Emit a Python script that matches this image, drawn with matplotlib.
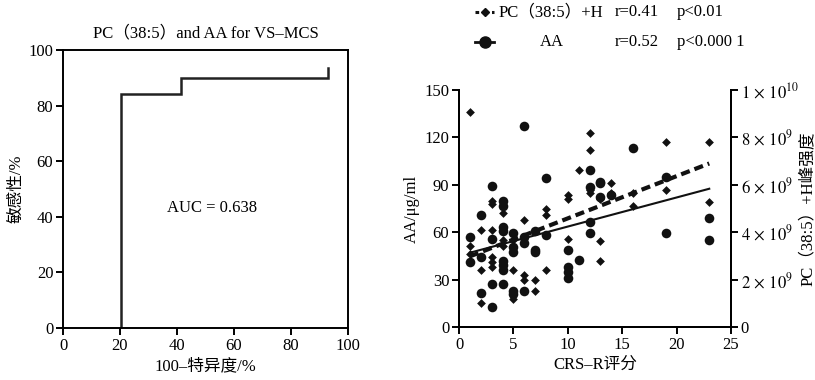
import matplotlib
matplotlib.use("Agg")
import matplotlib.pyplot as plt
from matplotlib.lines import Line2D
import numpy as np

plt.rcParams['font.family'] = ['Liberation Serif', 'Noto Sans CJK SC']
plt.rcParams['mathtext.fontset'] = 'stix'
plt.rcParams['font.size'] = 12

# ---- ROC data ----
roc_x = [20.5, 20.5, 41.5, 41.5, 93, 93]
roc_y = [0, 84, 84, 90, 90, 93.5]
auc_text = "AUC = 0.638"

# ---- scatter data ----
aa_x = [1, 1, 2, 2, 2, 3, 3, 3, 3, 4, 4, 4, 4, 4, 4, 4, 4,
        5, 5, 5, 5, 5, 6, 6, 6, 6, 7, 7, 7, 8, 8,
        10, 10, 10, 10, 11, 12, 12, 12, 12, 13, 13, 13, 14, 16, 19, 19, 23, 23]
aa_y = [57, 41, 71, 44, 21.5, 89, 56, 27, 12.5, 80, 76.5, 63.5, 61, 42, 39, 36, 27.5,
        59.5, 50.5, 47.5, 23, 21, 127, 57, 53, 23, 61, 48.5, 47.5, 94, 58,
        48.5, 38, 35, 31, 42.3, 99.3, 88.7, 66.6, 59.6, 92, 91, 82.5, 83.5, 113, 59.2, 95, 69, 55]

pc_x = [1, 1, 1, 2, 2, 2, 3, 3, 3, 3, 3, 3, 4, 4, 4, 4,
        5, 5, 5, 6, 6, 6, 7, 7, 8, 8, 8, 10, 10, 10, 11,
        12, 12, 12, 12, 12, 13, 13, 13, 14, 14, 16, 16, 19, 19, 19, 23, 23]
pc_y_left = [136, 51, 46.5, 61.3, 36, 15.2, 80, 78, 61.7, 44, 41, 38, 72, 76, 55, 51,
             55, 36, 18, 68, 32.7, 29.6, 29.6, 22.8, 75, 71, 36, 83.5, 81.3, 55.4, 99.3,
             122.5, 112, 86.6, 84.5, 66.6, 81.3, 54.5, 41.8, 91.3, 84.5, 84.5, 76.5, 116.8, 86.6, 95, 116.8, 79.2]
pc_y = [v / 150.0 * 1e10 for v in pc_y_left]

fit_x = [1, 23]
fit_aa = [47, 87.5]
fit_pc = [44.7 / 150.0 * 1e10, 103.5 / 150.0 * 1e10]

right_ticks = [0, 2e9, 4e9, 6e9, 8e9, 1e10]
right_ticklabels = ['0', r'$2\,\times\,10^{9}$', r'$4\,\times\,10^{9}$', r'$6\,\times\,10^{9}$',
                    r'$8\,\times\,10^{9}$', r'$1\,\times\,10^{10}$']

W, H = 815, 380
fig = plt.figure(figsize=(W / 100, H / 100), dpi=100)

lw = 1.4
fs = 12
# ---- left ROC ----
ax1 = fig.add_axes([63 / W, 1 - 328 / H, (348 - 63) / W, (328 - 50) / H])
ax1.plot(roc_x, roc_y, color='#222222', lw=1.8, solid_joinstyle='miter')
ax1.set_xlim(0, 100)
ax1.set_ylim(0, 100)
ax1.set_xticks(range(0, 101, 20))
ax1.set_yticks(range(0, 101, 20))
for s in ax1.spines.values():
    s.set_linewidth(lw)
ax1.tick_params(direction='out', length=5, width=lw, labelsize=fs, pad=2)
ax1.set_title("PC（38:5）and AA for VS–MCS", fontsize=12, pad=9)
ax1.set_xlabel("100–特异度/%", fontsize=fs, labelpad=3)
ax1.set_ylabel("敏感性/%", fontsize=fs, labelpad=3)
ax1.text(36.5, 43, auc_text, fontsize=fs, va='center', ha='left')

# ---- right scatter ----
ax2 = fig.add_axes([459 / W, 1 - 327 / H, (731 - 459) / W, (327 - 90) / H])
ax3 = ax2.twinx()
ax2.scatter(aa_x, aa_y, s=48, marker='o', color='#111111', zorder=3, linewidths=0)
ax3.scatter(pc_x, pc_y, s=20, marker='D', color='#111111', zorder=3, linewidths=0)
ax2.plot(fit_x, fit_aa, color='#111111', lw=1.5, zorder=4)
ax3.plot(fit_x, fit_pc, color='#111111', lw=3, ls=(0, (2.2, 1.2)), zorder=4)
ax2.set_xlim(0, 25)
ax2.set_ylim(0, 150)
ax3.set_ylim(0, 1e10)
ax2.set_xticks(range(0, 26, 5))
ax2.set_yticks(range(0, 151, 30))
ax3.set_yticks(right_ticks)
ax3.set_yticklabels(right_ticklabels)
for a in (ax2, ax3):
    a.spines['top'].set_visible(False)
    for s in a.spines.values():
        s.set_linewidth(lw)
    a.tick_params(direction='out', length=5, width=lw, labelsize=fs, pad=2)
ax2.set_xlabel("CRS–R评分", fontsize=fs, labelpad=3)
ax2.set_ylabel("AA/μg/ml", fontsize=fs, labelpad=3)
ax3.set_ylabel("PC（38:5）+H峰强度", fontsize=fs, labelpad=1)

# ---- legend ----
y1 = 1 - 12 / H
y2 = 1 - 42 / H
fig.add_artist(Line2D([475 / W, 494 / W], [y1, y1], color='#111111', lw=2.2,
                      ls=(0, (1.2, 1.5)), transform=fig.transFigure))
fig.add_artist(Line2D([485 / W], [y1], color='#111111', marker='D', ms=4,
                      transform=fig.transFigure))
fig.add_artist(Line2D([475 / W, 494 / W], [y2, y2], color='#111111', lw=2,
                      transform=fig.transFigure))
fig.add_artist(Line2D([485 / W], [y2], color='#111111', marker='o', ms=8,
                      transform=fig.transFigure))
fig.text(499 / W, y1, "PC（38:5）+H", fontsize=fs, va='center')
fig.text(540 / W, y2, "AA", fontsize=fs, va='center')
fig.text(615 / W, y1, "r=0.41", fontsize=fs, va='center')
fig.text(615 / W, y2, "r=0.52", fontsize=fs, va='center')
fig.text(677 / W, y1, "p<0.01", fontsize=fs, va='center')
fig.text(677 / W, y2, "p<0.000 1", fontsize=fs, va='center')

fig.savefig("out.png", dpi=100)
